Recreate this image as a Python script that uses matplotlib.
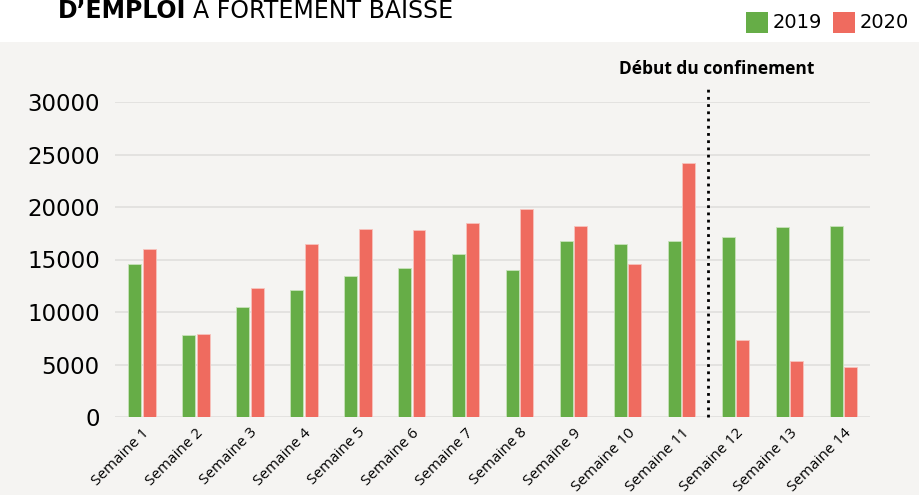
import matplotlib
matplotlib.use("Agg")
import matplotlib.pyplot as plt
import numpy as np

categories = [f"Semaine {i}" for i in range(1, 15)]
values_2019 = [14600, 7800, 10500, 12100, 13450, 14200, 15500, 14000, 16750, 16450, 16750, 17100, 18050, 18150]
values_2020 = [16000, 7900, 12250, 16450, 17900, 17800, 18450, 19800, 18200, 14550, 24150, 7350, 5330, 4800]
yticks = [0, 5000, 10000, 15000, 20000, 25000, 30000]
series_labels = ["2019", "2020"]

GREEN = "#66ad47"
RED = "#ef6b5f"
BG = "#f5f4f2"

fig = plt.figure(figsize=(9.2, 4.95), dpi=100)
fig.patch.set_facecolor("white")
# light panel background
bgrect = plt.Rectangle((0, 0), 1, 1 - 42 / 495, transform=fig.transFigure,
                       facecolor=BG, edgecolor="none", zorder=-10)
fig.patches.append(bgrect)

ax = fig.add_axes([0.125, 1 - 417 / 495, 0.821, (417 - 102) / 495])
ax.set_zorder(1)
ax.patch.set_alpha(0)

x = np.arange(len(categories))
w = 0.24
off = 0.135
ax.bar(x - off, values_2019, width=w, color=GREEN, edgecolor="#c8e3bb", linewidth=0.6, zorder=3)
ax.bar(x + off, values_2020, width=w, color=RED, edgecolor="#f7c3bd", linewidth=0.6, zorder=3)

ax.set_xlim(-0.5, len(categories) - 0.5)
ax.set_ylim(0, 30000)
ax.set_yticks(yticks)
ax.set_yticklabels([str(v) for v in yticks], fontsize=16.5, family="DejaVu Sans")
ax.tick_params(axis="y", length=0, pad=11)
ax.set_xticks(x)
ax.set_xticklabels(categories, rotation=45, ha="right", rotation_mode="anchor",
                   fontsize=11, family="Open Sans")
ax.tick_params(axis="x", length=0, pad=6)
ax.grid(axis="y", color="#e2e1df", linewidth=1.3, zorder=0)
for s in ax.spines.values():
    s.set_visible(False)

# confinement line
xl = 10.5
ax.plot([xl, xl], [0, 31600], linestyle=(0, (1, 1.6)), color="black", linewidth=2,
        clip_on=False, zorder=4)
ax.text(xl + 0.15, 32300, "Début du confinement", ha="center", va="bottom",
        fontsize=12.5, fontweight="bold", family="Open Sans")

# title (cropped at top in the reference)
t1 = fig.text(58 / 920, 1 - 11 / 495, "D\u2019EMPLOI", fontsize=17, fontweight="bold",
              va="center", ha="left", family="DejaVu Sans")
fig.canvas.draw()
bb = t1.get_window_extent()
fig.text((bb.x1 + 7) / 920, 1 - 11 / 495, "À FORTEMENT BAISSE", fontsize=17,
         va="center", ha="left", family="DejaVu Sans")

# legend
for xs, col, lab in [(746, GREEN, series_labels[0]), (833, RED, series_labels[1])]:
    fig.patches.append(plt.Rectangle((xs / 920, 1 - 33 / 495), 22 / 920, 21 / 495,
                                     transform=fig.transFigure, facecolor=col,
                                     edgecolor="none"))
    fig.text((xs + 27) / 920, 1 - 22 / 495, lab, fontsize=14, va="center", ha="left",
             family="DejaVu Sans")

fig.savefig("out.png", dpi=100, facecolor=fig.get_facecolor())
